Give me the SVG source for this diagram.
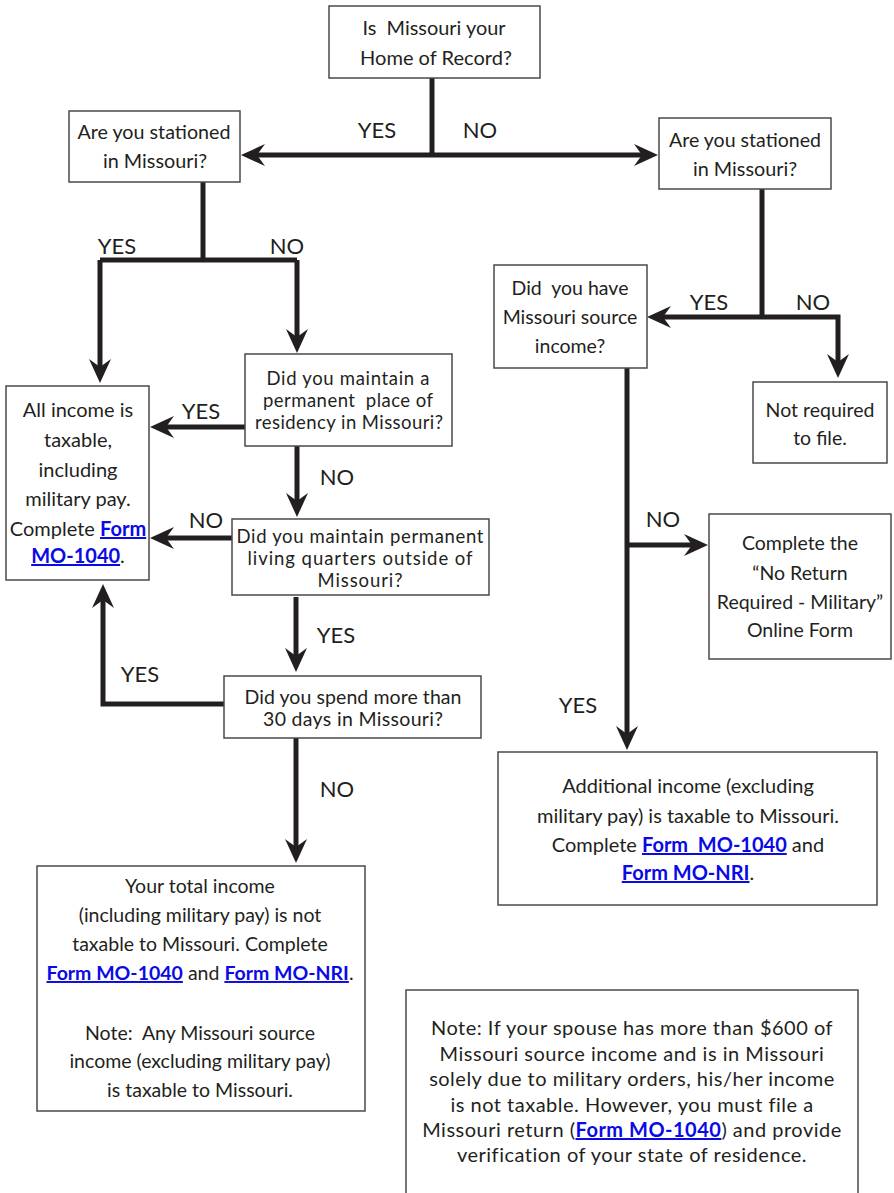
<svg xmlns="http://www.w3.org/2000/svg" width="894" height="1193" viewBox="0 0 894 1193">
<style>
.box{fill:#fff;stroke:#4a4a4a;stroke-width:1.5}
.t{font-family:Lato,"Open Sans",sans-serif;font-size:19.5px;fill:#231f20;text-anchor:middle}
.tw{font-size:20px}
.tn{font-size:20px;letter-spacing:0.5px}
.ts{font-size:18.5px}
.c{font-family:Lato,"Open Sans",sans-serif;font-size:20px;fill:#231f20;text-anchor:middle}
.lbl{font-family:Lato,"Open Sans",sans-serif;font-size:22px;fill:#231f20;text-anchor:middle}
.lnk{font-weight:bold;fill:#0a0ae6;text-decoration:underline}
.ln{fill:none;stroke:#231f20;stroke-width:5;stroke-linejoin:miter}
</style>
<defs>
<marker id="ah" markerUnits="userSpaceOnUse" markerWidth="30" markerHeight="30" refX="8" refY="13" orient="auto" overflow="visible">
<path d="M0,2 L24,13 L0,24 L8,13 Z" fill="#231f20"/>
</marker>
</defs>
<rect width="894" height="1193" fill="#fff"/>

<g id="connectors">
<path class="ln" d="M432,78 V155"/>
<path class="ln" d="M432,155 H257" marker-end="url(#ah)"/>
<path class="ln" d="M432,155 H642" marker-end="url(#ah)"/>
<path class="ln" d="M203,182 V260"/>
<path class="ln" d="M100,260 H297"/>
<path class="ln" d="M100,260 V367" marker-end="url(#ah)"/>
<path class="ln" d="M297,260 V337" marker-end="url(#ah)"/>
<path class="ln" d="M245,427 H166" marker-end="url(#ah)"/>
<path class="ln" d="M297,446 V501" marker-end="url(#ah)"/>
<path class="ln" d="M232,538 H166" marker-end="url(#ah)"/>
<path class="ln" d="M296,597 V656" marker-end="url(#ah)"/>
<path class="ln" d="M224,704 H103 V600" marker-end="url(#ah)"/>
<path class="ln" d="M296,738 V847" marker-end="url(#ah)"/>
<path class="ln" d="M762,189 V317"/>
<path class="ln" d="M762,317 H663" marker-end="url(#ah)"/>
<path class="ln" d="M762,317 H838 V362" marker-end="url(#ah)"/>
<path class="ln" d="M627,368 V734" marker-end="url(#ah)"/>
<path class="ln" d="M627,545 H692" marker-end="url(#ah)"/>
<text class="lbl" x="377" y="138">YES</text>
<text class="lbl" x="480" y="138">NO</text>
<text class="lbl" x="117" y="254">YES</text>
<text class="lbl" x="287" y="254">NO</text>
<text class="lbl" x="201" y="419">YES</text>
<text class="lbl" x="337" y="485">NO</text>
<text class="lbl" x="206" y="528">NO</text>
<text class="lbl" x="336" y="643">YES</text>
<text class="lbl" x="140" y="682">YES</text>
<text class="lbl" x="337" y="797">NO</text>
<text class="lbl" x="709" y="310">YES</text>
<text class="lbl" x="813" y="310">NO</text>
<text class="lbl" x="663" y="527">NO</text>
<text class="lbl" x="578" y="713">YES</text>
</g>

<g id="n-home">
<rect class="box" x="329" y="6" width="211" height="72"/>
<text class="c" x="434" y="35" textLength="143" lengthAdjust="spacingAndGlyphs" xml:space="preserve">Is  Missouri your</text>
<text class="c" x="436" y="65" textLength="152" lengthAdjust="spacingAndGlyphs">Home of Record?</text>
</g>

<g id="n-stationed-yes">
<rect class="box" x="69" y="111" width="171" height="71"/>
<text class="c" x="154" y="139" textLength="153" lengthAdjust="spacingAndGlyphs">Are you stationed</text>
<text class="c" x="155" y="168" textLength="104" lengthAdjust="spacingAndGlyphs">in Missouri?</text>
</g>

<g id="n-stationed-no">
<rect class="box" x="659" y="118" width="172" height="71"/>
<text class="c" x="745" y="147" textLength="152" lengthAdjust="spacingAndGlyphs">Are you stationed</text>
<text class="c" x="745" y="176" textLength="104" lengthAdjust="spacingAndGlyphs">in Missouri?</text>
</g>

<g id="n-all-income">
<rect class="box" x="6" y="386" width="143" height="194"/>
<text class="t tw" x="78" y="417">All income is</text>
<text class="t tw" x="78" y="447">taxable,</text>
<text class="t tw" x="78" y="477">including</text>
<text class="t tw" x="78" y="506">military pay.</text>
<text class="t tw" x="78" y="536">Complete <tspan class="lnk">Form</tspan></text>
<text class="t tw" x="78" y="563"><tspan class="lnk">MO-1040</tspan>.</text>
</g>

<g id="n-residency">
<rect class="box" x="245" y="354" width="207" height="92"/>
<text class="t ts" x="348" y="385" textLength="163">Did you maintain a</text>
<text class="t ts" x="348" y="407" textLength="170" xml:space="preserve">permanent  place of</text>
<text class="t ts" x="349" y="429" textLength="188">residency in Missouri?</text>
</g>

<g id="n-quarters">
<rect class="box" x="232" y="519" width="257" height="76"/>
<text class="t ts" x="360" y="543" textLength="247">Did you maintain permanent</text>
<text class="t ts" x="360" y="565" textLength="225">living quarters outside of</text>
<text class="t ts" x="360" y="587" textLength="85">Missouri?</text>
</g>

<g id="n-30days">
<rect class="box" x="224" y="676" width="257" height="62"/>
<text class="t" x="353" y="704" textLength="217">Did you spend more than</text>
<text class="t" x="353" y="726" textLength="180">30 days in Missouri?</text>
</g>

<g id="n-total-income">
<rect class="box" x="37" y="866" width="328" height="245"/>
<text class="t" x="200" y="893">Your total income</text>
<text class="t" x="200" y="922">(including military pay) is not</text>
<text class="t" x="200" y="951">taxable to Missouri. Complete</text>
<text class="t" x="200" y="980"><tspan class="lnk">Form MO-1040</tspan> and <tspan class="lnk">Form MO-NRI</tspan>.</text>
<text class="t" x="200" y="1040" xml:space="preserve">Note:  Any Missouri source</text>
<text class="t" x="200" y="1068">income (excluding military pay)</text>
<text class="t" x="200" y="1097">is taxable to Missouri.</text>
</g>

<g id="n-source-income">
<rect class="box" x="494" y="265" width="153" height="103"/>
<text class="t" x="570" y="295" xml:space="preserve">Did  you have</text>
<text class="t" x="570" y="324">Missouri source</text>
<text class="t" x="570" y="353">income?</text>
</g>

<g id="n-not-required">
<rect class="box" x="753" y="382" width="134" height="81"/>
<text class="t" x="820" y="417">Not required</text>
<text class="t" x="820" y="445">to file.</text>
</g>

<g id="n-no-return">
<rect class="box" x="709" y="514" width="182" height="145"/>
<text class="t" x="800" y="550">Complete the</text>
<text class="t" x="800" y="580">“No Return</text>
<text class="t" x="800" y="609">Required - Military”</text>
<text class="t" x="800" y="637">Online Form</text>
</g>

<g id="n-additional">
<rect class="box" x="498" y="752" width="379" height="153"/>
<text class="t tw" x="688" y="793">Additional income (excluding</text>
<text class="t tw" x="688" y="823">military pay) is taxable to Missouri.</text>
<text class="t tw" x="688" y="852" xml:space="preserve">Complete <tspan class="lnk">Form  MO-1040</tspan> and</text>
<text class="t tw" x="688" y="880"><tspan class="lnk">Form MO-NRI</tspan>.</text>
</g>

<g id="n-spouse-note">
<rect class="box" x="406" y="990" width="452" height="215"/>
<text class="t tn" x="632" y="1035">Note: If your spouse has more than $600 of</text>
<text class="t tn" x="632" y="1061">Missouri source income and is in Missouri</text>
<text class="t tn" x="632" y="1086">solely due to military orders, his/her income</text>
<text class="t tn" x="632" y="1112">is not taxable. However, you must file a</text>
<text class="t tn" x="632" y="1137">Missouri return (<tspan class="lnk">Form MO-1040</tspan>) and provide</text>
<text class="t tn" x="632" y="1162">verification of your state of residence.</text>
</g>
</svg>
